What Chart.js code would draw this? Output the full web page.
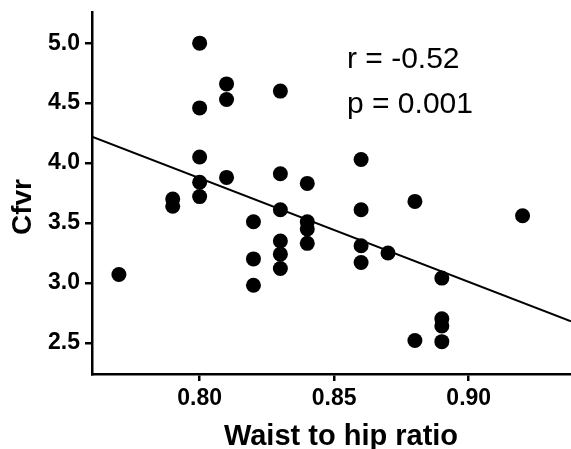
<!DOCTYPE html>
<html>
<head>
<meta charset="utf-8">
<script src="https://cdn.jsdelivr.net/npm/chart.js@4.4.0/dist/chart.umd.min.js"></script>
<style>
  html, body { margin: 0; padding: 0; background: #fff; }
  #wrap { width: 571px; height: 449px; }
</style>
</head>
<body>
<div id="wrap"><canvas id="myChart" width="571" height="449"></canvas></div>
<script>
// waist to hip ratio vs Cfvr
const waistHip = [
	0.77,
	0.79, 0.79,
	0.80, 0.80, 0.80, 0.80, 0.80,
	0.81, 0.81, 0.81,
	0.82, 0.82, 0.82,
	0.83, 0.83, 0.83, 0.83, 0.83, 0.83,
	0.84, 0.84, 0.84, 0.84,
	0.86, 0.86, 0.86, 0.86,
	0.87,
	0.88, 0.88,
	0.89, 0.89, 0.89, 0.89,
	0.92
];
const cfvr = [
	3.07,
	3.70, 3.64,
	5.00, 4.46, 4.05, 3.84, 3.72,
	4.66, 4.53, 3.88,
	3.51, 3.20, 2.98,
	4.60, 3.91, 3.61, 3.35, 3.24, 3.12,
	3.83, 3.51, 3.45, 3.33,
	4.03, 3.61, 3.31, 3.17,
	3.25,
	3.68, 2.52,
	3.04, 2.70, 2.64, 2.51,
	3.56
];

// fitted line ends
const fitX = [0.76, 0.938];
const fitY = [4.22, 2.68];

const xTicks = [0.80, 0.85, 0.90];
const yTicks = [2.5, 3.0, 3.5, 4.0, 4.5, 5.0];

const statLines = ['r = -0.52', 'p = 0.001'];
const xTitle = 'Waist to hip ratio';
const yTitle = 'Cfvr';

const ink = '#000';
const fontFam = '"Liberation Sans", Arial, sans-serif';

const textPlugin = {
	id: 'texts',
	afterDraw(chart) {
		const ctx = chart.ctx;
		ctx.save();
		ctx.fillStyle = ink;
		ctx.font = '30px ' + fontFam;
		ctx.textAlign = 'left';
		ctx.textBaseline = 'alphabetic';
		ctx.fillText(statLines[0], 347, 68);
		ctx.fillText(statLines[1], 347, 113);

		ctx.font = 'bold 29px ' + fontFam;
		ctx.textAlign = 'center';
		ctx.fillText(xTitle, 341, 445);

		ctx.font = 'bold 28px ' + fontFam;
		ctx.translate(31, 207);
		ctx.rotate(-Math.PI / 2);
		ctx.fillText(yTitle, 0, 0);
		ctx.restore();
	}
};

new Chart('myChart', {
	type: 'scatter',
	data: {
		datasets: [
			{
				label: 'points',
				data: waistHip.map((x, i) => ({ x: x, y: cfvr[i] })),
				backgroundColor: ink,
				borderWidth: 0,
				pointRadius: 7.5,
			},
			{
				label: 'fit',
				type: 'line',
				data: fitX.map((x, i) => ({ x: x, y: fitY[i] })),
				borderColor: ink,
				borderWidth: 2,
				pointRadius: 0,
				fill: false,
			},
		],
	},
	options: {
		responsive: false,
		animation: false,
		layout: { autoPadding: false, padding: { top: 12, left: 0, right: 0, bottom: 0 } },
		plugins: {
			legend: { display: false },
			tooltip: { enabled: false },
		},
		scales: {
			x: {
				type: 'linear',
				min: 0.76,
				max: 0.938,
				afterBuildTicks: s => { s.ticks = xTicks.map(v => ({ value: v })); },
				afterFit: s => { s.height = 75; s.paddingLeft = 0; s.paddingRight = 0; },
				border: { display: true, color: ink, width: 2.5 },
				grid: { drawOnChartArea: false, drawTicks: true, tickLength: 7, color: ink, lineWidth: 2.5 },
				ticks: {
					color: ink,
					padding: 4,
					font: { family: fontFam, size: 23, weight: 'bold' },
					callback: v => v.toFixed(2),
				},
			},
			y: {
				min: 2.24,
				max: 5.26,
				afterBuildTicks: s => { s.ticks = yTicks.map(v => ({ value: v })); },
				afterFit: s => { s.width = 92; s.paddingTop = 0; s.paddingBottom = 0; },
				border: { display: true, color: ink, width: 2.5 },
				grid: { drawOnChartArea: false, drawTicks: true, tickLength: 7, color: ink, lineWidth: 2.5 },
				ticks: {
					color: ink,
					padding: 5,
					font: { family: fontFam, size: 23, weight: 'bold' },
					callback: v => v.toFixed(1),
				},
			},
		},
	},
	plugins: [textPlugin],
});
</script>
</body>
</html>
